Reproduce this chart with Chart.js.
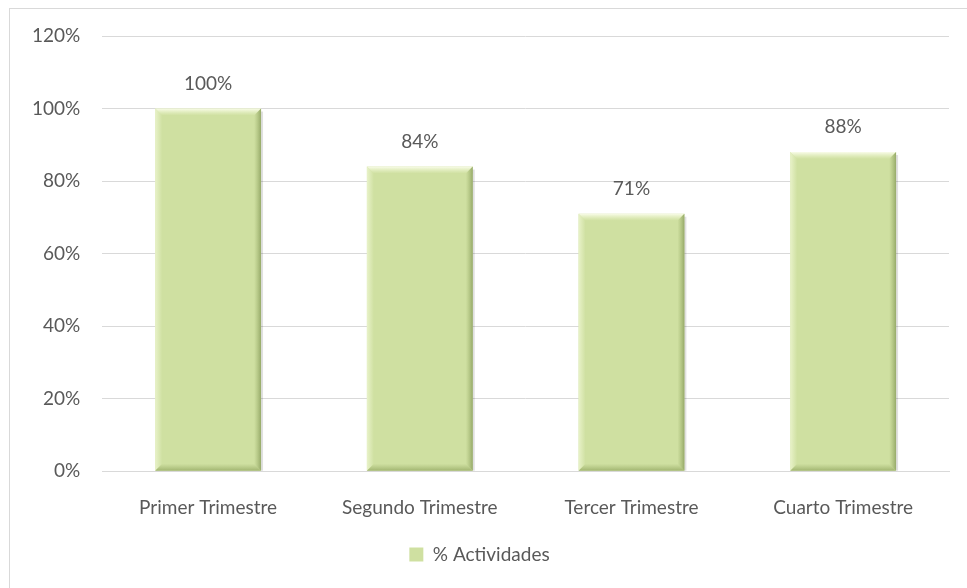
<!DOCTYPE html>
<html>
<head>
<meta charset="utf-8">
<script src="https://cdn.jsdelivr.net/npm/chart.js@4/dist/chart.umd.min.js"></script>
<style>
  html, body { margin: 0; padding: 0; background: #fff; overflow: hidden; }
  #wrap { width: 967px; height: 588px; position: relative; }
</style>
</head>
<body>
<div id="wrap"><canvas id="actChart" width="967" height="588"></canvas></div>
<script>
// Data
const trimestres = ['Primer Trimestre', 'Segundo Trimestre', 'Tercer Trimestre', 'Cuarto Trimestre'];
const actividades = [100, 84, 71, 88];
const serieNombre = '% Actividades';

const textColor = '#595959';
const gridColor = '#d9d9d9';
const barFill = '#cfe0a1';
const fontFam = 'Lato, "Open Sans", sans-serif';

// outer frame like the office chart area
const framePlugin = {
  id: 'frame',
  beforeDraw(chart) {
    const ctx = chart.ctx;
    ctx.save();
    ctx.fillStyle = '#fff';
    ctx.fillRect(0, 0, chart.width, chart.height);
    ctx.strokeStyle = '#d9d9d9';
    ctx.lineWidth = 1;
    ctx.strokeRect(9.5, 8.5, chart.width + 20, chart.height + 20);
    ctx.restore();
  }
};

// bevel look on the bars, using the bar elements placed by the scale
const bevelPlugin = {
  id: 'bevel',
  afterDatasetsDraw(chart) {
    const ctx = chart.ctx;
    chart.getDatasetMeta(0).data.forEach(bar => {
      const left = bar.x - bar.width / 2;
      const right = bar.x + bar.width / 2;
      const top = bar.y;
      const bottom = bar.base;
      const b = 7;
      ctx.save();
      // top highlight
      let g = ctx.createLinearGradient(0, top, 0, top + b);
      g.addColorStop(0, '#f9fce9');
      g.addColorStop(1, 'rgba(239,247,210,0)');
      ctx.fillStyle = g;
      ctx.beginPath();
      ctx.moveTo(left, top);
      ctx.lineTo(right, top);
      ctx.lineTo(right - b, top + b);
      ctx.lineTo(left + b, top + b);
      ctx.closePath();
      ctx.fill();
      // left highlight
      g = ctx.createLinearGradient(left, 0, left + b, 0);
      g.addColorStop(0, 'rgba(235,244,205,0.9)');
      g.addColorStop(1, 'rgba(235,244,205,0)');
      ctx.fillStyle = g;
      ctx.beginPath();
      ctx.moveTo(left, top);
      ctx.lineTo(left + b, top + b);
      ctx.lineTo(left + b, bottom - b);
      ctx.lineTo(left, bottom);
      ctx.closePath();
      ctx.fill();
      // right shade
      g = ctx.createLinearGradient(right - b, 0, right, 0);
      g.addColorStop(0, 'rgba(160,180,110,0)');
      g.addColorStop(1, 'rgba(140,160,95,0.85)');
      ctx.fillStyle = g;
      ctx.beginPath();
      ctx.moveTo(right, top);
      ctx.lineTo(right, bottom);
      ctx.lineTo(right - b, bottom - b);
      ctx.lineTo(right - b, top + b);
      ctx.closePath();
      ctx.fill();
      // bottom shade
      g = ctx.createLinearGradient(0, bottom - b, 0, bottom);
      g.addColorStop(0, 'rgba(160,180,110,0)');
      g.addColorStop(1, 'rgba(150,170,100,0.8)');
      ctx.fillStyle = g;
      ctx.beginPath();
      ctx.moveTo(left, bottom);
      ctx.lineTo(right, bottom);
      ctx.lineTo(right - b, bottom - b);
      ctx.lineTo(left + b, bottom - b);
      ctx.closePath();
      ctx.fill();
      // soft drop shadow on the right
      ctx.fillStyle = 'rgba(0,0,0,0.12)';
      ctx.fillRect(right, top + 3, 2, bottom - top - 3);
      ctx.restore();
    });
  }
};

// value labels above bars
const labelPlugin = {
  id: 'valueLabels',
  afterDatasetsDraw(chart) {
    const ctx = chart.ctx;
    const ds = chart.data.datasets[0];
    ctx.save();
    ctx.font = '19px ' + fontFam;
    ctx.fillStyle = textColor;
    ctx.textAlign = 'center';
    ctx.textBaseline = 'middle';
    chart.getDatasetMeta(0).data.forEach((bar, i) => {
      ctx.fillText(ds.data[i] + '%', bar.x, bar.y - 25);
    });
    ctx.restore();
  }
};

new Chart(document.getElementById('actChart'), {
  type: 'bar',
  data: {
    labels: trimestres,
    datasets: [{
      label: serieNombre,
      data: actividades,
      backgroundColor: barFill,
      borderWidth: 0,
      barPercentage: 0.5,
      categoryPercentage: 1
    }]
  },
  options: {
    responsive: false,
    animation: false,
    layout: { padding: { left: 10, right: 18, top: 36, bottom: 14 } },
    scales: {
      y: {
        min: 0,
        max: 120,
        ticks: {
          stepSize: 20,
          color: textColor,
          font: { family: fontFam, size: 19 },
          padding: 22,
          callback: v => v + '%'
        },
        grid: { color: gridColor, lineWidth: 1, drawTicks: false },
        border: { display: false }
      },
      x: {
        ticks: {
          color: textColor,
          font: { family: fontFam, size: 19 },
          padding: 25
        },
        grid: { display: false, drawTicks: false },
        border: { color: gridColor }
      }
    },
    plugins: {
      legend: {
        position: 'bottom',
        labels: {
          color: textColor,
          font: { family: fontFam, size: 19 },
          boxWidth: 14,
          boxHeight: 14,
          padding: 1
        }
      },
      tooltip: { enabled: false }
    }
  },
  plugins: [framePlugin, bevelPlugin, labelPlugin]
});
</script>
</body>
</html>
